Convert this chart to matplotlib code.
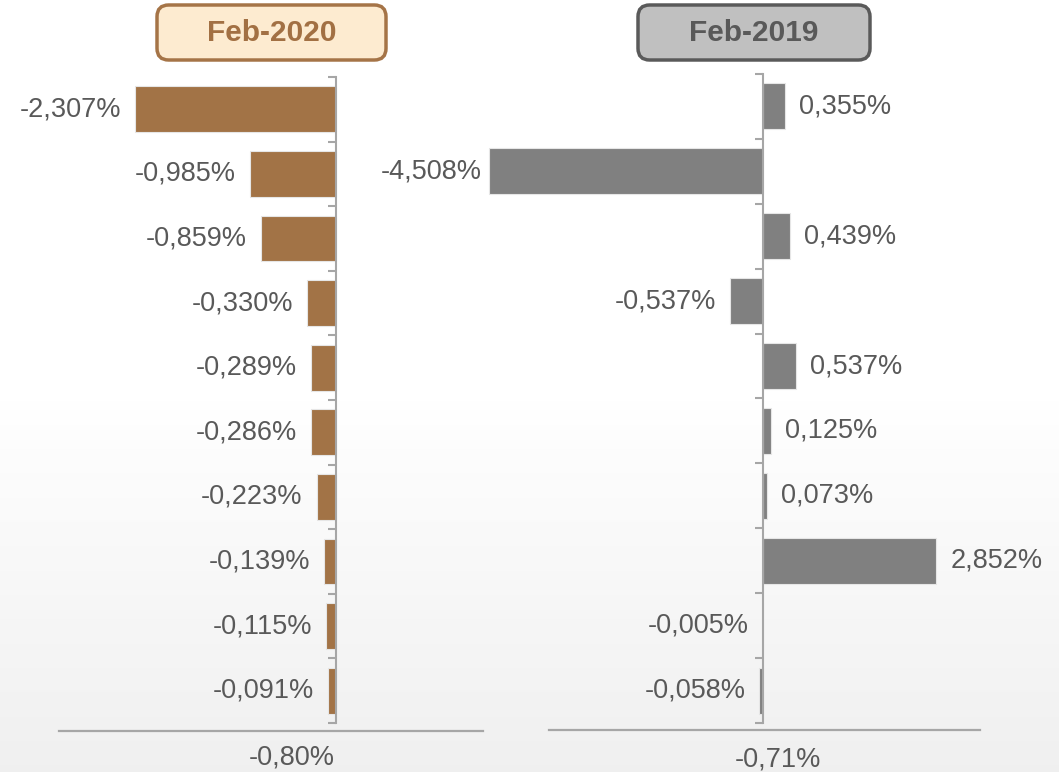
import matplotlib.pyplot as plt
import numpy as np
from matplotlib.patches import FancyBboxPatch
from matplotlib.lines import Line2D

W, H = 1059, 772

# data
feb2020 = [-2.307, -0.985, -0.859, -0.330, -0.289, -0.286, -0.223, -0.139, -0.115, -0.091]
feb2019 = [0.355, -4.508, 0.439, -0.537, 0.537, 0.125, 0.073, 2.852, -0.005, -0.058]
titles = ['Feb-2020', 'Feb-2019']
totals = [-0.80, -0.71]

brown = '#A27346'
gray = '#808080'
txt = '#595959'
axis_col = '#A6A6A6'
font = 'Liberation Sans'


def fx(px):
    return px / W


def fy(py):
    return 1 - py / H


def fmt(v, nd=3):
    return '{:.{}f}%'.format(v, nd).replace('.', ',')


fig = plt.figure(figsize=(W / 100, H / 100), dpi=100)

# soft background gradient towards the bottom
bg = fig.add_axes([0, 0, 1, 1], zorder=-10)
grad = np.ones((H, 1))
t = np.clip((np.arange(H) - 400) / (H - 400), 0, 1)
grad[:, 0] = 1 - 0.06 * t
bg.imshow(np.dstack([grad, grad, grad]), aspect='auto', extent=(0, 1, 0, 1))
bg.axis('off')


def panel(vals, color, x0, x1, zero_px, scale, y0, y1):
    ax = fig.add_axes([fx(x0), fy(y1), fx(x1) - fx(x0), fy(y0) - fy(y1)])
    ax.patch.set_alpha(0)
    y = np.arange(len(vals))
    ax.barh(y, vals, height=0.71, color=color, edgecolor='#e6e6e6', linewidth=0.8, zorder=2)
    ax.set_xlim(-(zero_px - x0) / scale, (x1 - zero_px) / scale)
    ax.set_ylim(len(vals) - 0.5, -0.5)
    for s in ['top', 'right', 'bottom']:
        ax.spines[s].set_visible(False)
    ax.spines['left'].set_position(('data', 0))
    ax.spines['left'].set_color(axis_col)
    ax.spines['left'].set_linewidth(1.5)
    ax.set_yticks(np.arange(len(vals) + 1) - 0.5)
    ax.set_yticklabels([])
    ax.tick_params(axis='y', length=6, width=1.5, color=axis_col, direction='out')
    ax.set_xticks([])
    for yi, v in zip(y, vals):
        # the longest bar keeps its label closer
        gap = 7 if v < -4 else 14
        if v < 0:
            ax.annotate(fmt(v), (v, yi), xytext=(-gap, 0), textcoords='offset pixels',
                        ha='right', va='center', fontsize=19.5, color=txt, family=font)
        else:
            ax.annotate(fmt(v), (v, yi), xytext=(gap, 0), textcoords='offset pixels',
                        ha='left', va='center', fontsize=19.5, color=txt, family=font)
    return ax


panel(feb2020, brown, 100, 400, 336, 87.1, 77, 723)
panel(feb2019, gray, 440, 1040, 763, 60.8, 74, 723)

# title boxes
boxes = [(157, 386, '#FDEBD0', '#A57447', '#A27043'),
         (638, 870, '#C0C0C0', '#5A5A5A', '#595959')]
for title, (bx0, bx1, fc, ec, tc) in zip(titles, boxes):
    p = FancyBboxPatch((fx(bx0), fy(60)), fx(bx1) - fx(bx0), fy(5) - fy(60),
                       boxstyle='round,pad=0,rounding_size=0.011',
                       transform=fig.transFigure, facecolor=fc, edgecolor=ec,
                       linewidth=2.5, mutation_aspect=W / H)
    fig.patches.append(p)
    fig.text(fx((bx0 + bx1) / 2), fy(33), title, ha='center', va='center',
             fontsize=21.5, fontweight='bold', color=tc, family=font)

# total lines and labels
lines = [(59, 483, 731, 292, 757), (549, 980, 730, 778, 759)]
for tot, (lx0, lx1, ly, tx, ty) in zip(totals, lines):
    fig.add_artist(Line2D([fx(lx0), fx(lx1)], [fy(ly), fy(ly)], color=axis_col,
                          linewidth=1.6, transform=fig.transFigure))
    fig.text(fx(tx), fy(ty), fmt(tot, 2), ha='center', va='center',
             fontsize=19.5, color=txt, family=font)

fig.savefig('out.png', dpi=100)
